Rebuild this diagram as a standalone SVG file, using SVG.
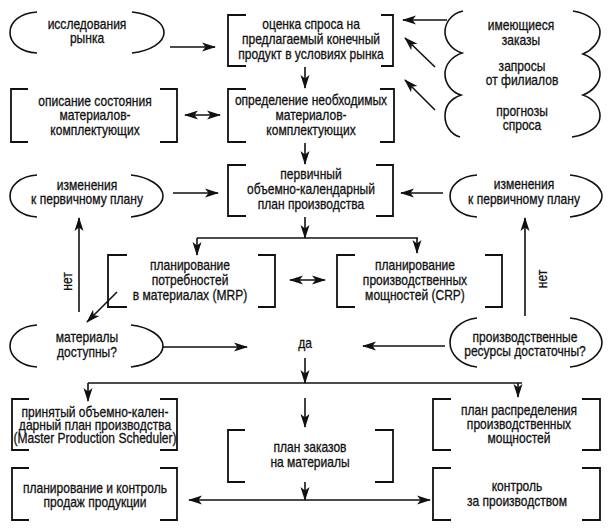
<svg xmlns="http://www.w3.org/2000/svg" width="611" height="532" viewBox="0 0 611 532">
<style>
.bx path{fill:none;stroke:#111;stroke-width:1.8}
.el path{fill:none;stroke:#111;stroke-width:1.6}
#connectors line{fill:none;stroke:#111;stroke-width:1.6}
text{font-family:"Liberation Sans",Arial,sans-serif;font-size:14px;fill:#111;stroke:#111;stroke-width:0.3;text-anchor:middle}
</style>
<defs>
<marker id="ah" viewBox="0 0 14 10" markerWidth="14" markerHeight="10" markerUnits="userSpaceOnUse" refX="13" refY="5" orient="auto-start-reverse">
<path d="M0,0.5 L14,5 L0,9.5 L3.5,5 Z" fill="#111"/>
</marker>
</defs>
<rect width="611" height="532" fill="#fff"/>

<g id="connectors">
<line x1="170" y1="47" x2="215" y2="47" marker-end="url(#ah)"/>
<line x1="305" y1="67" x2="305" y2="88" marker-end="url(#ah)"/>
<line x1="305" y1="143" x2="305" y2="164" marker-end="url(#ah)"/>
<line x1="185" y1="115" x2="220" y2="115" marker-start="url(#ah)" marker-end="url(#ah)"/>
<line x1="447" y1="20" x2="403" y2="20" marker-end="url(#ah)"/>
<line x1="435" y1="67" x2="405" y2="38" marker-end="url(#ah)"/>
<line x1="435" y1="110" x2="405" y2="80" marker-end="url(#ah)"/>
<line x1="173" y1="193" x2="218" y2="193" marker-end="url(#ah)"/>
<line x1="443" y1="193" x2="401" y2="193" marker-end="url(#ah)"/>
<line x1="305" y1="217" x2="305" y2="238" marker-end="url(#ah)"/>
<line x1="197" y1="238" x2="418" y2="238"/>
<line x1="197" y1="238" x2="197" y2="255" marker-end="url(#ah)"/>
<line x1="417" y1="238" x2="417" y2="253" marker-end="url(#ah)"/>
<line x1="290" y1="280" x2="325" y2="280" marker-start="url(#ah)" marker-end="url(#ah)"/>
<line x1="117" y1="292" x2="87" y2="322" marker-end="url(#ah)"/>
<line x1="79" y1="312" x2="79" y2="218" marker-end="url(#ah)"/>
<line x1="163" y1="347" x2="247" y2="347" marker-end="url(#ah)"/>
<line x1="445" y1="346" x2="363" y2="346" marker-end="url(#ah)"/>
<line x1="525" y1="316" x2="525" y2="218" marker-end="url(#ah)"/>
<line x1="305" y1="358" x2="305" y2="383" marker-end="url(#ah)"/>
<line x1="88" y1="383" x2="522" y2="383"/>
<line x1="88" y1="383" x2="88" y2="401" marker-end="url(#ah)"/>
<line x1="518" y1="383" x2="518" y2="397" marker-end="url(#ah)"/>
<line x1="305" y1="398" x2="305" y2="427" marker-end="url(#ah)"/>
<line x1="305" y1="482" x2="305" y2="500" marker-end="url(#ah)"/>
<line x1="189" y1="500" x2="430" y2="500" marker-start="url(#ah)" marker-end="url(#ah)"/>
<text transform="translate(72 281.5) rotate(-90) scale(0.86 1)">нет</text>
<text transform="translate(547 279) rotate(-90) scale(0.86 1)">нет</text>
<text transform="translate(305 0) scale(0.86 1)" y="348">да</text>
</g>

<g id="e-market" class="el">
<path d="M37,12 C20,13 10,22 10,32.5 C10,43 20,52 37,53"/>
<path d="M132,12 C150,14 164,22 164,32.5 C164,43 150,51 132,53"/>
<g transform="translate(87 0) scale(0.86 1)"><text y="29.5">исследования</text><text y="43.5">рынка</text></g>
</g>

<g id="e-stack" class="el">
<path d="M463,11 C450,14 445,24 445,32 C445,41 452,50 462,53 C451,57 445,65 445,74 C445,83 451,92 461,95 C450,99 445,107 445,116 C445,125 450,134 460,137"/>
<path d="M573,11 C590,14 600,23 600,32 C600,42 592,50 583,54 C594,58 600,66 600,74 C600,83 593,91 583,95 C594,99 600,107 600,116 C600,126 590,134 572,137"/>
</g>
<g id="s-orders" transform="translate(521 0) scale(0.86 1)"><text y="30.5">имеющиеся</text><text y="45.5">заказы</text></g>
<g id="s-branches" transform="translate(522 0) scale(0.86 1)"><text y="71.5">запросы</text><text y="85.5">от филиалов</text></g>
<g id="s-forecast" transform="translate(522 0) scale(0.86 1)"><text y="116.5">прогнозы</text><text y="130.5">спроса</text></g>

<g id="b-demand" class="bx">
<path d="M246,15 H228 V66 H246"/><path d="M381,15 H393 V66 H381"/>
<g transform="translate(311 0) scale(0.86 1)">
<text y="29">оценка спроса на</text>
<text y="44">предлагаемый конечный</text>
<text y="59">продукт в условиях рынка</text>
</g>
</g>

<g id="b-define" class="bx">
<path d="M246,89 H228 V142 H246"/><path d="M380,89 H394 V142 H380"/>
<g transform="translate(311 0) scale(0.86 1)">
<text y="105">определение необходимых</text>
<text y="120">материалов-</text>
<text y="135">комплектующих</text>
</g>
</g>

<g id="b-describe" class="bx">
<path d="M28,89 H11 V142 H28"/><path d="M160,89 H177 V142 H160"/>
<g transform="translate(95 0) scale(0.86 1)">
<text y="106">описание состояния</text>
<text y="120.5">материалов-</text>
<text y="135">комплектующих</text>
</g>
</g>

<g id="e-changes-left" class="el">
<path d="M37,175 C20,176 10,186 10,196 C10,206 20,216 37,217"/>
<path d="M131,175 C149,177 163,186 163,196 C163,206 149,215 131,217"/>
<g transform="translate(87 0) scale(0.86 1)"><text y="190">изменения</text><text y="204">к первичному плану</text></g>
</g>

<g id="b-primary" class="bx">
<path d="M246,165 H228 V216 H246"/><path d="M376,165 H393 V216 H376"/>
<g transform="translate(311 0) scale(0.86 1)">
<text y="179">первичный</text>
<text y="194.5">объемно-календарный</text>
<text y="209.5">план производства</text>
</g>
</g>

<g id="e-changes-right" class="el">
<path d="M477,175 C460,176 450,186 450,196 C450,206 460,216 477,217"/>
<path d="M570,175 C588,177 602,186 602,196 C602,206 588,215 570,217"/>
<g transform="translate(524 0) scale(0.86 1)"><text y="189.5">изменения</text><text y="204">к первичному плану</text></g>
</g>

<g id="b-mrp" class="bx">
<path d="M127,255 H108 V307 H127"/><path d="M258,255 H275 V307 H258"/>
<g transform="translate(190 0) scale(0.86 1)">
<text y="270">планирование</text>
<text y="285">потребностей</text>
<text y="300">в материалах (MRP)</text>
</g>
</g>

<g id="b-crp" class="bx">
<path d="M355,255 H337 V307 H355"/><path d="M485,255 H502 V307 H485"/>
<g transform="translate(415 0) scale(0.86 1)">
<text y="270">планирование</text>
<text y="285">производственных</text>
<text y="300">мощностей (CRP)</text>
</g>
</g>

<g id="e-materials" class="el">
<path d="M37,325 C20,326 10,336 10,346 C10,356 20,366 37,367"/>
<path d="M131,325 C149,327 163,336 163,346 C163,356 149,365 131,367"/>
<g transform="translate(87 0) scale(0.86 1)"><text y="342">материалы</text><text y="357">доступны?</text></g>
</g>

<g id="e-resources" class="el">
<path d="M477,318 C460,320 450,331 450,342.5 C450,354 460,365 477,367"/>
<path d="M570,318 C588,320 602,331 602,342.5 C602,354 588,365 570,367"/>
<g transform="translate(525 0) scale(0.86 1)"><text y="342">производственные</text><text y="356.5">ресурсы достаточны?</text></g>
</g>

<g id="b-mps" class="bx">
<path d="M29,399 H12 V450 H29"/><path d="M160,399 H177 V450 H160"/>
<g transform="translate(95 0) scale(0.86 1)">
<text y="417">принятый объемно-кален-</text>
<text y="430">дарный план производства</text>
<text y="443">(Master Production Scheduler)</text>
</g>
</g>

<g id="b-orders" class="bx">
<path d="M245,430 H228 V482 H245"/><path d="M375,430 H393 V482 H375"/>
<g transform="translate(310 0) scale(0.86 1)">
<text y="452.5">план заказов</text>
<text y="467.5">на материалы</text>
</g>
</g>

<g id="b-capacity" class="bx">
<path d="M451,399 H433 V450 H451"/><path d="M582,399 H600 V450 H582"/>
<g transform="translate(519 0) scale(0.86 1)">
<text y="415">план распределения</text>
<text y="429">производственных</text>
<text y="443">мощностей</text>
</g>
</g>

<g id="b-sales" class="bx">
<path d="M29,468 H12 V520 H29"/><path d="M160,468 H177 V520 H160"/>
<g transform="translate(95 0) scale(0.86 1)">
<text y="493">планирование и контроль</text>
<text y="507">продаж продукции</text>
</g>
</g>

<g id="b-control" class="bx">
<path d="M451,468 H433 V520 H451"/><path d="M582,468 H600 V520 H582"/>
<g transform="translate(517 0) scale(0.86 1)">
<text y="491.5">контроль</text>
<text y="506.5">за производством</text>
</g>
</g>
</svg>
